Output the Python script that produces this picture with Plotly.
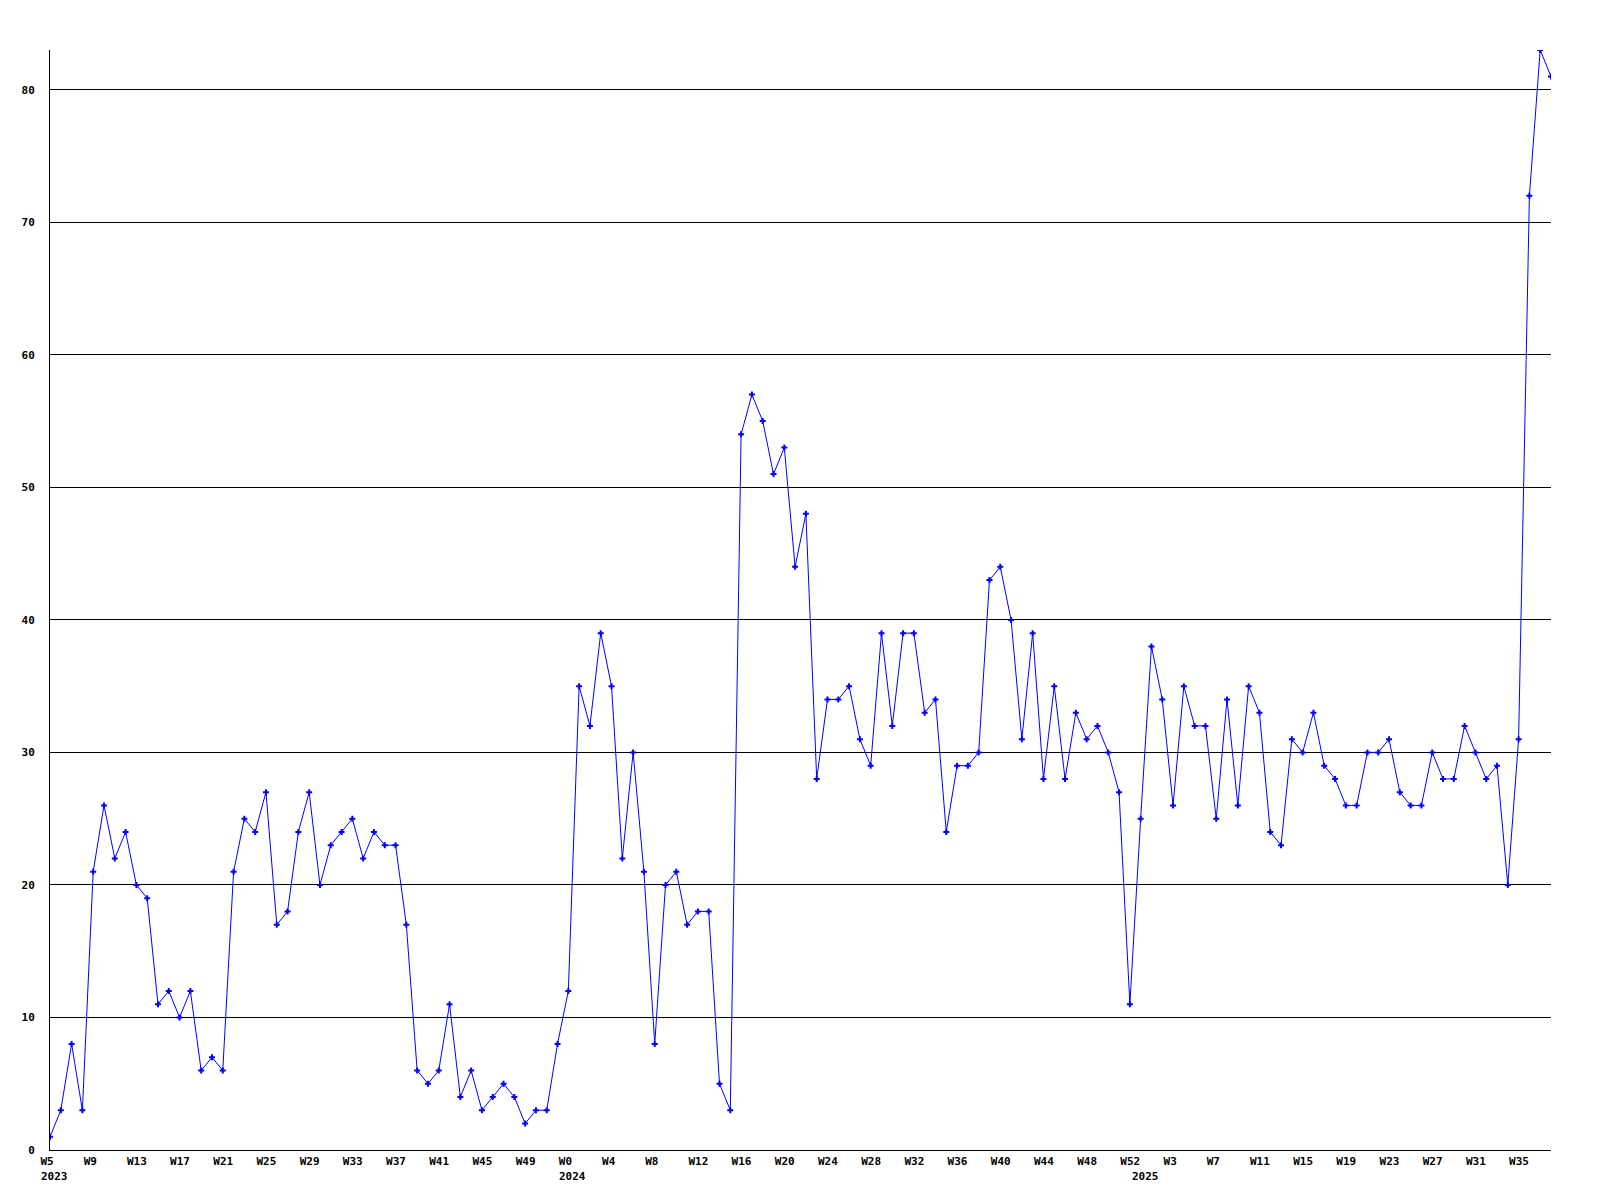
import plotly.graph_objects as go

# ---- data ----
weeks_2023 = [f"W{w}" for w in range(5, 53)]
weeks_2024 = [f"W{w}" for w in range(0, 53)]
weeks_2025 = [f"W{w}" for w in range(0, 39)]
categories = ([f"2023-{w}" for w in weeks_2023] +
              [f"2024-{w}" for w in weeks_2024] +
              [f"2025-{w}" for w in weeks_2025])

values_2023 = [1, 3, 8, 3, 21, 26, 22, 24, 20, 19, 11, 12, 10, 12, 6, 7, 6, 21, 25, 24,
               27, 17, 18, 24, 27, 20, 23, 24, 25, 22, 24, 23, 23, 17, 6, 5, 6, 11, 4, 6,
               3, 4, 5, 4, 2, 3, 3, 8]
values_2024 = [12, 35, 32, 39, 35, 22, 30, 21, 8, 20, 21, 17, 18, 18, 5, 3, 54, 57, 55, 51,
               53, 44, 48, 28, 34, 34, 35, 31, 29, 39, 32, 39, 39, 33, 34, 24, 29, 29, 30, 43,
               44, 40, 31, 39, 28, 35, 28, 33, 31, 32, 30, 27, 11]
values_2025 = [25, 38, 34, 26, 35, 32, 32, 25, 34, 26, 35, 33, 24, 23, 31, 30, 33, 29, 28, 26,
               26, 30, 30, 31, 27, 26, 26, 30, 28, 28, 32, 30, 28, 29, 20, 31, 72, 83, 81]
values = values_2023 + values_2024 + values_2025

tick_categories = categories[::4]
tick_labels = [c.split("-")[1] for c in tick_categories]
year_labels = ["2023", "2024", "2025"]
year_categories = ["2023-W5", "2024-W0", "2025-W0"]
y_ticks = [0, 10, 20, 30, 40, 50, 60, 70, 80]

FONT = dict(family="DejaVu Sans Mono", size=11, color="black", weight="bold")

fig = go.Figure()
fig.add_trace(go.Scatter(
    x=categories, y=values, mode="lines+markers",
    line=dict(color="#0000ff", width=1),
    marker=dict(symbol="cross", size=5, color="#0000ff"),
    hoverinfo="x+y",
))

for lab, cat in zip(year_labels, year_categories):
    fig.add_annotation(x=cat, y=0, xref="x", yref="paper", text=lab,
                       showarrow=False, xanchor="left", yanchor="top",
                       xshift=-11, yshift=-18, font=FONT)

fig.update_layout(
    width=1600, height=1200,
    margin=dict(l=42, r=57, t=42, b=58),
    plot_bgcolor="white", paper_bgcolor="white",
    showlegend=False,
    xaxis=dict(
        type="category", categoryorder="array", categoryarray=categories,
        range=[0, len(categories) - 1],
        automargin=False,
        showgrid=False, zeroline=False,
        showline=True, linecolor="black", linewidth=1,
        tickmode="array", tickvals=tick_categories, ticktext=tick_labels,
        ticks="", tickangle=0,
        ticklabelposition="outside right", ticklabelshift=-10,
        ticklabelstandoff=1,
        tickfont=FONT,
    ),
    yaxis=dict(
        range=[0, 83],
        automargin=False,
        tickmode="array", tickvals=y_ticks,
        showgrid=True, gridcolor="black", gridwidth=1,
        zeroline=False,
        showline=True, linecolor="black", linewidth=1,
        ticks="", ticklabelstandoff=12,
        tickfont=FONT,
    ),
)

fig.write_html("out.html")
